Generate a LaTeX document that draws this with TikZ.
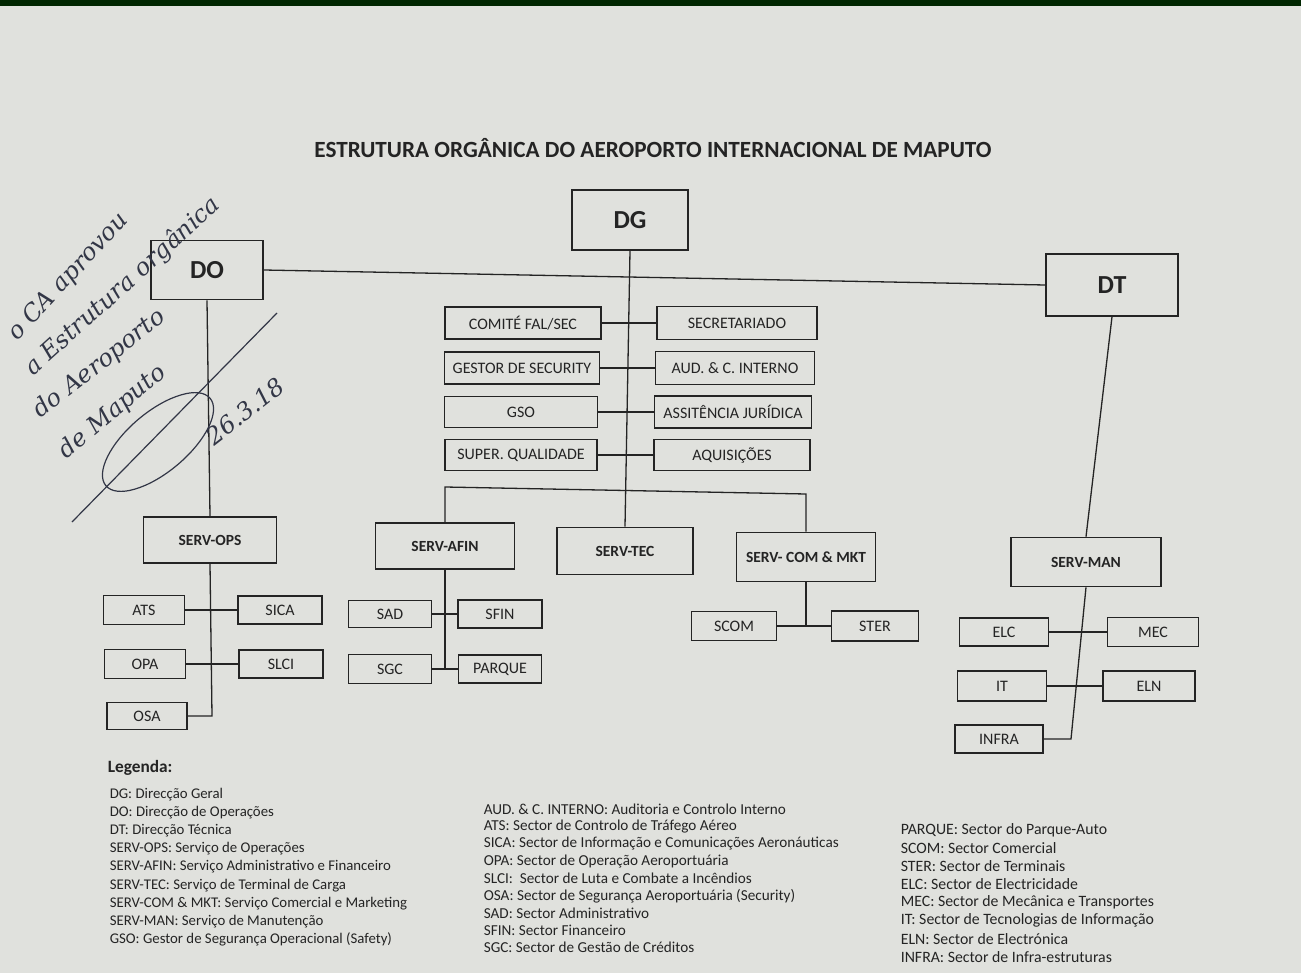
\documentclass[tikz,border=0pt]{standalone}
\usepackage{fontspec}
\setmainfont{Carlito}
\newfontfamily\handfont{DejaVu Serif}
\usetikzlibrary{positioning}
\definecolor{paper}{RGB}{224,225,221}
\definecolor{ink}{RGB}{36,36,36}
\definecolor{pen}{RGB}{50,54,70}

\begin{document}
\begin{tikzpicture}[x=1pt,y=-1pt,
  every node/.style={draw=ink,line width=1.6pt,inner sep=0pt,text=ink},
  chief/.style={font=\bfseries\fontsize{26}{28}\selectfont},
  serv/.style={font=\bfseries\fontsize{15.5}{17}\selectfont},
  sect/.style={font=\fontsize{16}{18}\selectfont},
  legend/.style={draw=none,anchor=west,font=\fontsize{15.2}{17}\selectfont},
  hand/.style={draw=none,anchor=west,text=pen,font=\handfont\itshape\fontsize{24}{26}\selectfont},
  link/.style={draw=ink,line width=1.3pt}]

\useasboundingbox (0,0) rectangle (1301,973);
\fill[paper] (0,0) rectangle (1301,973);
\fill[black!85!green] (0,0) rectangle (1301,6);

\node[draw=none,font=\bfseries\fontsize{23.2}{26}\selectfont] (title) at (653,148) {ESTRUTURA ORGÂNICA DO AEROPORTO INTERNACIONAL DE MAPUTO};

% direccoes
\node[chief,minimum width=116,minimum height=60] (dg) at (630,220) {DG};
\node[chief,minimum width=112,minimum height=59] (do) at (207,270) {DO};
\node[chief,minimum width=132,minimum height=62] (dt) at (1112,285) {DT};

% orgaos de apoio
\node[sect,minimum width=156,minimum height=32] (comite) at (523,323) {COMITÉ FAL/SEC};
\node[sect,minimum width=155,minimum height=32] (gestor) at (522,368) {GESTOR DE SECURITY};
\node[sect,minimum width=153,minimum height=31] (gso) at (521,412) {GSO};
\node[sect,minimum width=152,minimum height=31] (super) at (521,455) {SUPER. QUALIDADE};
\node[sect,minimum width=160,minimum height=33] (secret) at (737,323) {SECRETARIADO};
\node[sect,minimum width=159,minimum height=33] (aud) at (735,368) {AUD. \& C. INTERNO};
\node[sect,minimum width=157,minimum height=32] (assist) at (733,412) {ASSITÊNCIA JURÍDICA};
\node[sect,minimum width=156,minimum height=31] (aquis) at (732,455) {AQUISIÇÕES};

% servicos
\node[serv,minimum width=133,minimum height=46] (ops) at (210,540) {SERV-OPS};
\node[serv,minimum width=139,minimum height=46] (afin) at (445,546) {SERV-AFIN};
\node[serv,minimum width=136,minimum height=47] (tec) at (625,551) {SERV-TEC};
\node[serv,minimum width=139,minimum height=49] (com) at (806,557) {SERV- COM \& MKT};
\node[serv,minimum width=150,minimum height=49] (man) at (1086,562) {SERV-MAN};

% sectores
\node[sect,minimum width=81,minimum height=29] (ats) at (144,610) {ATS};
\node[sect,minimum width=84,minimum height=28] (sica) at (280,610) {SICA};
\node[sect,minimum width=81,minimum height=29] (opa) at (145,664) {OPA};
\node[sect,minimum width=84,minimum height=28] (slci) at (281,664) {SLCI};
\node[sect,minimum width=80,minimum height=27] (osa) at (147,716) {OSA};
\node[sect,minimum width=83,minimum height=27] (sad) at (390,614) {SAD};
\node[sect,minimum width=84,minimum height=28] (sfin) at (500,614) {SFIN};
\node[sect,minimum width=83,minimum height=29] (sgc) at (390,669) {SGC};
\node[sect,minimum width=83,minimum height=28] (parque) at (500,669) {PARQUE};
\node[sect,minimum width=85,minimum height=29] (scom) at (734,626) {SCOM};
\node[sect,minimum width=87,minimum height=30] (ster) at (875,626) {STER};
\node[sect,minimum width=89,minimum height=28] (elc) at (1004,632) {ELC};
\node[sect,minimum width=91,minimum height=29] (mec) at (1153,632) {MEC};
\node[sect,minimum width=89,minimum height=30] (it) at (1002,686) {IT};
\node[sect,minimum width=92,minimum height=30] (eln) at (1149,686) {ELN};
\node[sect,minimum width=88,minimum height=28] (infra) at (999,739) {INFRA};

% ligacoes
\coordinate (barL) at (445,487);
\coordinate (barR) at (806,494);
\coordinate (opsEnd) at (212,716);
\coordinate (afinEnd) at (445,669);
\coordinate (comJ) at (806,626);
\coordinate (manEnd) at (1071,739);

\draw[link] (do.east) -- (dt.west);
\draw[link] (dg.south) -- (tec.north);
\draw[link] (afin.north) -- (barL) -- (barR) -- (com.north);
\draw[link] (do.south) -- (ops.north);
\draw[link] (dt.south) -- (man.north);
\foreach \a/\b in {comite/secret,gestor/aud,gso/assist,super/aquis,ats/sica,opa/slci,sad/sfin,sgc/parque,scom/ster,elc/mec,it/eln}
	\draw[link] (\a.east) -- (\b.west);
\draw[link] (ops.south) -- (opsEnd) -- (osa.east);
\draw[link] (afin.south) -- (afinEnd);
\draw[link] (com.south) -- (comJ);
\draw[link] (man.south) -- (manEnd) -- (infra.east);

% legenda
\node[legend,font=\bfseries\fontsize{17.3}{19}\selectfont] (leg) at (107,768) {Legenda:};
\foreach \t [count=\i] in {{DG: Direcção Geral},{DO: Direcção de Operações},{DT: Direcção Técnica},{SERV-OPS: Serviço de Operações},{SERV-AFIN: Serviço Administrativo e Financeiro},{SERV-TEC: Serviço de Terminal de Carga},{SERV-COM \& MKT: Serviço Comercial e Marketing},{SERV-MAN: Serviço de Manutenção},{GSO: Gestor de Segurança Operacional (Safety)}}
	\node[legend,font=\fontsize{14.8}{17}\selectfont] (la\i) at (109,{776+18.2*\i}) {\t};
\foreach \t [count=\i] in {{AUD. \& C. INTERNO: Auditoria e Controlo Interno},{ATS: Sector de Controlo de Tráfego Aéreo},{SICA: Sector de Informação e Comunicações Aeronáuticas},{OPA: Sector de Operação Aeroportuária},{SLCI:\ \ Sector de Luta e Combate a Incêndios},{OSA: Sector de Segurança Aeroportuária (Security)},{SAD: Sector Administrativo},{SFIN: Sector Financeiro},{SGC: Sector de Gestão de Créditos}}
	\node[legend] (lb\i) at (483,{792+17.3*\i}) {\t};
\foreach \t [count=\i] in {{PARQUE: Sector do Parque-Auto},{SCOM: Sector Comercial},{STER: Sector de Terminais},{ELC: Sector de Electricidade},{MEC: Sector de Mecânica e Transportes},{IT: Sector de Tecnologias de Informação},{ELN: Sector de Electrónica},{INFRA: Sector de Infra-estruturas}}
	\node[legend,font=\fontsize{15.8}{17}\selectfont] (lc\i) at (900,{812+18.1*\i}) {\t};

% anotacao manuscrita
\node[hand,rotate=47] (h1) at (12,338) {o CA aprovou};
\node[hand,rotate=42] (h2) at (28,372) {a Estrutura orgânica};
\node[hand,rotate=38] (h3) at (36,414) {do Aeroporto};
\node[hand,rotate=40] (h4) at (62,455) {de Maputo};
\node[hand,rotate=38] (h5) at (208,440) {26.3.18};
\draw[pen,line width=1.2pt] (158,442) ellipse [x radius=68, y radius=30, rotate=40];
\draw[pen,line width=1.2pt] (72,522) -- (277,313);

\end{tikzpicture}
\end{document}
